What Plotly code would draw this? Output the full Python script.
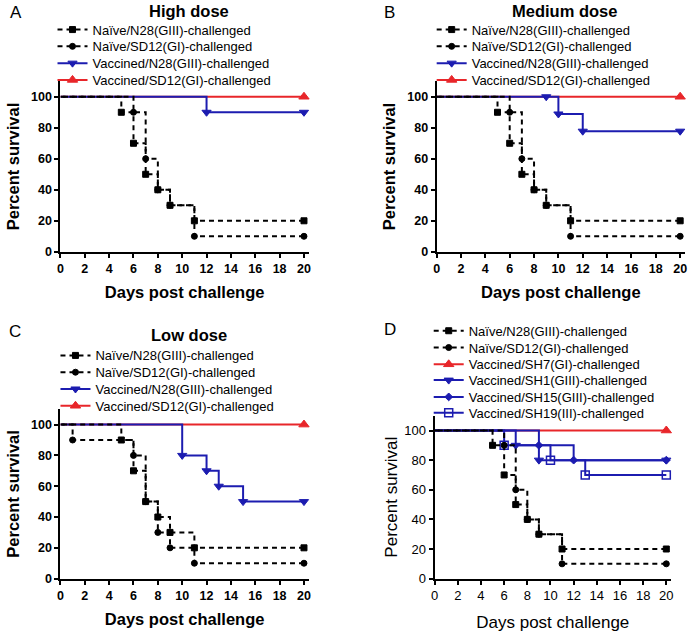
import plotly.graph_objects as go

# ---------------- data ----------------
# Panel A: High dose
a_naive_n28_days = [0, 5, 6, 7, 8, 9, 11, 20]
a_naive_n28_surv = [100, 90, 70, 50, 40, 30, 20, 20]
a_naive_sd12_days = [0, 6, 7, 8, 9, 11, 20]
a_naive_sd12_surv = [100, 90, 60, 40, 30, 10, 10]
a_vac_n28_days = [0, 12, 20]
a_vac_n28_surv = [100, 90, 90]
a_vac_sd12_days = [0, 20]
a_vac_sd12_surv = [100, 100]

# Panel B: Medium dose
b_naive_n28_days = [0, 5, 6, 7, 8, 9, 11, 20]
b_naive_n28_surv = [100, 90, 70, 50, 40, 30, 20, 20]
b_naive_sd12_days = [0, 6, 7, 8, 9, 11, 20]
b_naive_sd12_surv = [100, 90, 60, 40, 30, 10, 10]
b_vac_n28_days = [0, 9, 10, 12, 20]
b_vac_n28_surv = [100, 100, 88.9, 77.8, 77.8]
b_vac_sd12_days = [0, 20]
b_vac_sd12_surv = [100, 100]

# Panel C: Low dose
c_naive_n28_days = [0, 5, 6, 7, 8, 9, 11, 20]
c_naive_n28_surv = [100, 90, 70, 50, 40, 30, 20, 20]
c_naive_sd12_days = [0, 1, 6, 7, 8, 9, 11, 20]
c_naive_sd12_surv = [100, 90, 80, 50, 30, 20, 10, 10]
c_vac_n28_days = [0, 10, 12, 13, 15, 20]
c_vac_n28_surv = [100, 80, 70, 60, 50, 50]
c_vac_sd12_days = [0, 20]
c_vac_sd12_surv = [100, 100]

# Panel D: heterologous challenge
d_naive_n28_days = [0, 5, 6, 7, 8, 9, 11, 20]
d_naive_n28_surv = [100, 90, 70, 50, 40, 30, 20, 20]
d_naive_sd12_days = [0, 6, 7, 8, 9, 11, 20]
d_naive_sd12_surv = [100, 90, 60, 40, 30, 10, 10]
d_sh7_days = [0, 20]
d_sh7_surv = [100, 100]
d_sh1_days = [0, 7, 9, 20]
d_sh1_surv = [100, 90, 80, 80]
d_sh15_days = [0, 9, 12, 20]
d_sh15_surv = [100, 90, 80, 80]
d_sh19_days = [0, 6, 10, 13, 20]
d_sh19_surv = [100, 90, 80, 70, 70]

panel_titles = ["High dose", "Medium dose", "Low dose"]
panel_letters = ["A", "B", "C", "D"]
x_ticks = [0, 2, 4, 6, 8, 10, 12, 14, 16, 18, 20]
y_ticks = [0, 20, 40, 60, 80, 100]

# ---------------- style ----------------
FONT = "Liberation Sans, Arial, sans-serif"
BLACK = "#000000"
BLUE = "#1c1cb0"
RED = "#e8262a"
W, H = 700, 636
DASH = "5px,4px"

fig = go.Figure()
legend_layouts = {}
leg_counter = [0]


def px_x(v):
    return v / W


def px_y(v):
    return 1 - v / H


def add(xs, ys, name, color, symbol, msize, dash, axis, leg_xy, mline=1):
    # points reversed so the step shape 'vh' reproduces the Kaplan-Meier 'hv' steps
    # and the (invisible) starting point is last
    rx = list(reversed(xs))
    ry = list(reversed(ys))
    n = len(rx)
    clear = "rgba(0,0,0,0)"
    cols = [color] * (n - 1) + [clear]
    leg_counter[0] += 1
    k = leg_counter[0]
    lname = "legend" if k == 1 else f"legend{k}"
    xa = "x" if axis == 1 else f"x{axis}"
    ya = "y" if axis == 1 else f"y{axis}"
    fig.add_trace(go.Scatter(
        x=rx, y=ry, name=name, mode="lines+markers",
        line=dict(color=color, width=2, dash=dash, shape="vh"),
        marker=dict(symbol=symbol, size=msize, color=cols,
                    line=dict(color=cols, width=mline)),
        xaxis=xa, yaxis=ya, legend=lname,
        cliponaxis=False, hoverinfo="skip",
    ))
    tx, ty = leg_xy
    legend_layouts[lname] = dict(
        x=px_x(tx - 46), y=px_y(ty), xanchor="left", yanchor="middle",
        bgcolor="rgba(0,0,0,0)", borderwidth=0,
        font=dict(family=FONT, size=13, color=BLACK),
        itemwidth=30, itemclick=False, itemdoubleclick=False)


# legend text anchor (x of text start) and row centres, in pixels
legA = [(95, 30), (95, 47), (95, 64), (95, 81)]
legB = [(478, 30), (478, 47), (478, 64), (478, 81)]
legC = [(98, 360), (98, 377), (98, 394), (98, 411)]
legD = [(475, 335), (475, 352), (475, 369), (475, 385), (475, 402), (475, 418)]

panels = [
    (1, legA, a_vac_sd12_days, a_vac_sd12_surv, a_vac_n28_days, a_vac_n28_surv,
     a_naive_n28_days, a_naive_n28_surv, a_naive_sd12_days, a_naive_sd12_surv),
    (2, legB, b_vac_sd12_days, b_vac_sd12_surv, b_vac_n28_days, b_vac_n28_surv,
     b_naive_n28_days, b_naive_n28_surv, b_naive_sd12_days, b_naive_sd12_surv),
    (3, legC, c_vac_sd12_days, c_vac_sd12_surv, c_vac_n28_days, c_vac_n28_surv,
     c_naive_n28_days, c_naive_n28_surv, c_naive_sd12_days, c_naive_sd12_surv),
]
for p in panels:
    ax, lg = p[0], p[1]
    add(p[2], p[3], "Vaccined/SD12(GI)-challenged", RED, "triangle-up", 9, "solid", ax, lg[3])
    add(p[4], p[5], "Vaccined/N28(GIII)-challenged", BLUE, "triangle-down", 8, "solid", ax, lg[2])
    add(p[6], p[7], "Naïve/N28(GIII)-challenged", BLACK, "square", 6, DASH, ax, lg[0])
    add(p[8], p[9], "Naïve/SD12(GI)-challenged", BLACK, "circle", 6, DASH, ax, lg[1])

add(d_sh7_days, d_sh7_surv, "Vaccined/SH7(GI)-challenged", RED, "triangle-up", 9, "solid", 4, legD[2])
add(d_sh19_days, d_sh19_surv, "Vaccined/SH19(III)-challenged", BLUE, "square-open", 8, "solid", 4, legD[5], mline=1.5)
add(d_sh15_days, d_sh15_surv, "Vaccined/SH15(GIII)-challenged", BLUE, "diamond", 6, "solid", 4, legD[4])
add(d_sh1_days, d_sh1_surv, "Vaccined/SH1(GIII)-challenged", BLUE, "triangle-down", 8, "solid", 4, legD[3])
add(d_naive_n28_days, d_naive_n28_surv, "Naïve/N28(GIII)-challenged", BLACK, "square", 6, DASH, 4, legD[0])
add(d_naive_sd12_days, d_naive_sd12_surv, "Naïve/SD12(GI)-challenged", BLACK, "circle", 6, DASH, 4, legD[1])

# axis geometry in pixels: (x0, x_at_20, y0, y_at_100)
geo = [
    (57, 303, 255, 98),
    (437, 683, 255, 98),
    (57, 303, 586, 430),
    (435, 669, 586, 436),
]
XMAX, YMAX = 20.4, 110
layout = {}
for i, (x0, x20, y0, y100) in enumerate(geo):
    bold = i < 3
    wt = "bold" if bold else "normal"
    xr = x0 + (x20 - x0) / 20 * XMAX
    yt = y0 - (y0 - y100) / 100 * YMAX
    sfx = "" if i == 0 else str(i + 1)
    common = dict(showline=True, linewidth=2, linecolor=BLACK, ticks="outside",
                  ticklen=4, tickwidth=2, tickcolor=BLACK, showgrid=False,
                  zeroline=False, fixedrange=True,
                  tickfont=dict(family=FONT, size=12.5 if bold else 13, color=BLACK, weight=wt))
    tsize = 16.5 if bold else 17
    layout["xaxis" + sfx] = dict(domain=[px_x(x0), px_x(xr)], range=[0, XMAX],
                                 anchor="y" + sfx, tickvals=x_ticks,
                                 title=dict(text="Days post challenge",
                                            font=dict(family=FONT, size=tsize, color=BLACK, weight=wt),
                                            standoff=12 if bold else 14),
                                 **common)
    layout["yaxis" + sfx] = dict(domain=[px_y(y0), px_y(yt)], range=[0, YMAX],
                                 anchor="x" + sfx, tickvals=y_ticks,
                                 title=dict(text="Percent survival",
                                            font=dict(family=FONT, size=tsize, color=BLACK, weight=wt),
                                            standoff=7 if bold else 2),
                                 **common)

annotations = []
title_pos = [(187, 11), (566, 11), (187, 339)]
for t, (tx, ty) in zip(panel_titles, title_pos):
    annotations.append(dict(text=t, x=px_x(tx), y=px_y(ty), xref="paper", yref="paper",
                            showarrow=False, xanchor="center", yanchor="middle",
                            font=dict(family=FONT, size=16.5, color=BLACK, weight="bold")))
letter_pos = [(4, 13), (382, 13), (3, 336), (382, 334)]
for t, (tx, ty) in zip(panel_letters, letter_pos):
    annotations.append(dict(text=t, x=px_x(tx), y=px_y(ty), xref="paper", yref="paper",
                            showarrow=False, xanchor="left", yanchor="middle",
                            font=dict(family=FONT, size=17, color=BLACK)))

fig.update_layout(
    width=W, height=H, margin=dict(l=0, r=0, t=0, b=0),
    paper_bgcolor="white", plot_bgcolor="white",
    annotations=annotations, showlegend=True, hovermode=False,
    **layout, **legend_layouts,
)

fig.write_html("out.html", config={"displayModeBar": False, "staticPlot": False})

# remove the browser's default page margin so the figure sits at the window origin
with open("out.html", "r", encoding="utf-8") as f:
    html = f.read()
html = html.replace("<head>", "<head><style>html,body{margin:0;padding:0;overflow:hidden;}</style>", 1)
with open("out.html", "w", encoding="utf-8") as f:
    f.write(html)
